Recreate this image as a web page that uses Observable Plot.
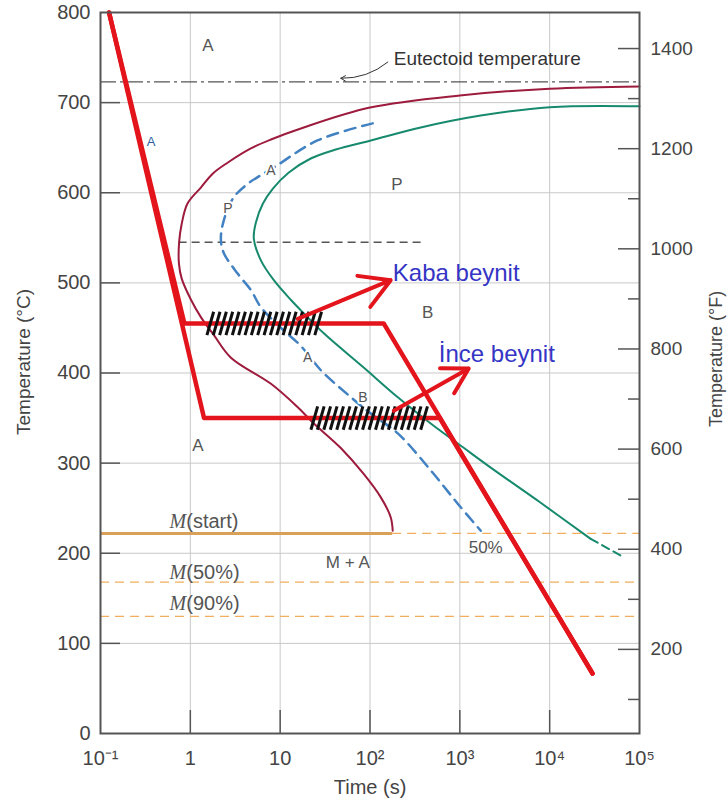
<!DOCTYPE html>
<html><head><meta charset="utf-8">
<script src="https://cdn.jsdelivr.net/npm/d3@7"></script>
<script src="https://cdn.jsdelivr.net/npm/@observablehq/plot@0.6"></script>
<style>
body{margin:0;background:#fff;}
#chart svg{font-family:"Liberation Sans",Arial,sans-serif;}
</style></head><body><div id="chart"></div>
<script>
// ---- axis ticks ----
const xTicks = [0.1, 1, 10, 100, 1000, 10000, 100000];
const xTickLabels = ["10⁻¹", "1", "10", "10²", "10³", "10⁴", "10⁵"];
const yTicksC = [0, 100, 200, 300, 400, 500, 600, 700, 800];
const yTicksF = [200, 400, 600, 800, 1000, 1200, 1400];
const yMinorF = [100, 300, 500, 700, 900, 1100, 1300];

// ---- reference temperatures (°C) ----
const eutectoidT = 723;
const noseLineT = 545, noseLineT0 = 0.75, noseLineT1 = 386;
const mStartT = 222, mStartEnd = 179;
const m50T = 168;
const m90T = 130;

// ---- transformation curves [time s, temperature °C] ----
const startCurve = [[100000,718],[10000,715.5],[1000,708],[100,694.5],[17,671.3],[7.9,659.1],[4.72,649.2],[2.62,633.6],[1.784,621.4],[1.31,605.8],[0.93,588],[0.8,565],[0.75,545],[0.746,522],[0.8,505],[1.02,481],[1.31,462],[1.83,442],[2.83,417],[7.9,388],[15.7,362],[23.7,344],[47,317],[85,288],[132,262],[170,240],[179,225]];
const halfCurve = [[107,677],[26,658],[8.5,628],[4.37,610],[2.98,593.6],[2.31,566],[2.19,547],[2.37,532.6],[3.38,510],[4.72,492],[6.1,473],[10.2,450],[17,430],[28.4,403],[53.8,378],[102,355],[204,333],[474,292],[948,255],[1710,225]];
const endCurve = [[100000,696],[10000,695],[1706,685.6],[367,672.4],[102,658],[41.6,648],[21.9,638],[12.5,622.5],[8.3,604.7],[6.43,588],[5.37,567],[5.09,549],[6.1,525],[8.5,503],[13.2,481],[18.4,466],[30.6,444],[85,406],[204,373],[474,344],[1104,317],[2208,295],[7943,256],[28600,216]];
const endCurveDashed = [[28600,216],[61700,197.5]];

// ---- cooling paths ----
const coarsePath = [[0.1245,800],[0.859,455],[142,455],[30000,66.6]];
const finePath = [[0.1245,800],[1.42,350],[597,350],[30000,66.6]];
const hatchBands = [{t0:1.53, t1:24.3, T:455}, {t0:22, t1:367, T:350}];
const arrows = [{t1:15.7, T1:460, t2:170, T2:503}, {t1:184, T1:358, t2:1256, T2:405}];

// ---- labels ----
const regionLabels = [{s:"A", t:1.57, T:763},{s:"P", t:200, T:609},{s:"B", t:439, T:467},{s:"A", t:1.215, T:320},{s:"M + A", t:56.6, T:190},{s:"50%", t:1940, T:206}];
const curveLabels = [{s:"A", t:7.9, T:625},{s:"P", t:2.62, T:583},{s:"A", t:20.3, T:417},{s:"B", t:83.2, T:373}];
const mLabels = [{s:"(start)", T:235},{s:"(50%)", T:179},{s:"(90%)", T:144}];
const mLabelT = 0.9;
const bainite = [{s:"Kaba beynit", t:179.6, T:511},{s:"İnce beynit", t:583, T:420.5}];

// derived hatch strokes (decorative, evenly spaced along each band)
const hatch = [];
for (const b of hatchBands) {
  const n = 18, l0 = Math.log10(b.t0), l1 = Math.log10(b.t1);
  for (let i = 0; i < n; i++) {
    const l = l0 + (l1 - l0) * i / (n - 1);
    hatch.push({x1: 10 ** l, y1: b.T - 13, x2: 10 ** (l + 0.075), y2: b.T + 13});
  }
}
const toC = F => (F - 32) * 5 / 9;
const toF = C => String(Math.round(C * 9 / 5 + 32));
const X = d => d[0], Y = d => d[1];
const grey = "#444";

const chart = Plot.plot({
  width: 728, height: 805,
  marginLeft: 100, marginRight: 89, marginTop: 12, marginBottom: 72,
  style: {fontFamily: '"Liberation Sans", Arial, sans-serif', fontSize: "19px", background: "#fff"},
  x: {type: "log", domain: [0.1, 100000]},
  y: {domain: [0, 800]},
  marks: [
    Plot.gridX(xTicks.slice(1, -1), {stroke: "#c8c8c8", strokeOpacity: 1}),
    Plot.gridY(yTicksC.slice(1, -1), {stroke: "#c8c8c8", strokeOpacity: 1}),
    // Martensite lines
    Plot.ruleY([mStartT], {x1: 0.1, x2: mStartEnd, stroke: "#d9a05a", strokeWidth: 3}),
    Plot.ruleY([mStartT], {x1: mStartEnd, x2: 100000, stroke: "#f0ae5e", strokeWidth: 1.3, strokeDasharray: "9,6"}),
    Plot.ruleY([m50T, m90T], {stroke: "#f0ae5e", strokeWidth: 1.3, strokeDasharray: "9,6"}),
    // eutectoid & nose line
    Plot.ruleY([eutectoidT], {stroke: "#555", strokeWidth: 1.4, strokeDasharray: "16,4,3,4"}),
    Plot.ruleY([noseLineT], {x1: noseLineT0, x2: noseLineT1, stroke: "#555", strokeWidth: 1.4, strokeDasharray: "8,5"}),
    // curves
    Plot.line(startCurve, {x: X, y: Y, stroke: "#9d1b3c", strokeWidth: 2, curve: "catmull-rom"}),
    Plot.line(endCurve, {x: X, y: Y, stroke: "#178a6e", strokeWidth: 2, curve: "catmull-rom"}),
    Plot.line(endCurveDashed, {x: X, y: Y, stroke: "#178a6e", strokeWidth: 2, strokeDasharray: "8,5"}),
    Plot.line(halfCurve, {x: X, y: Y, stroke: "#4282c2", strokeWidth: 2.5, strokeDasharray: "11,7", curve: "catmull-rom"}),
    Plot.text(curveLabels, {x: "t", y: "T", text: "s", fontSize: 14, fill: "#555", stroke: "white", strokeWidth: 4}),
    // cooling paths
    Plot.line(coarsePath, {x: X, y: Y, stroke: "#e3141b", strokeWidth: 4.5}),
    Plot.line(finePath, {x: X, y: Y, stroke: "#e3141b", strokeWidth: 4.5}),
    Plot.link(hatch, {x1: "x1", y1: "y1", x2: "x2", y2: "y2", stroke: "#111", strokeWidth: 3}),
    Plot.arrow(arrows, {x1: "t1", y1: "T1", x2: "t2", y2: "T2", stroke: "#e3141b", strokeWidth: 4, headLength: 22}),
    // eutectoid label
    Plot.text(["Eutectoid temperature"], {x: 184, y: 749, textAnchor: "start", fill: "#333"}),
    Plot.arrow([0], {x1: 158, y1: 745, x2: 47.3, y2: 727, bend: 20, stroke: "#333", strokeWidth: 1, headLength: 8}),
    // region labels
    Plot.text(regionLabels, {x: "t", y: "T", text: "s", fontSize: 17, fill: "#555"}),
    Plot.text(["A"], {x: 0.365, y: 656, fontSize: 13, fill: "#2c5f9e"}),
    Plot.text(mLabels, {x: mLabelT, y: "T", text: () => "M", textAnchor: "end", fontFamily: '"Liberation Serif", serif', fontStyle: "italic", fontSize: 20, fill: "#555"}),
    Plot.text(mLabels, {x: mLabelT, y: "T", text: "s", textAnchor: "start", fontSize: 20, fill: "#555"}),
    Plot.text(bainite, {x: "t", y: "T", text: "s", textAnchor: "start", fontSize: 24, fill: "#3535c5"}),
    // axes
    Plot.axisY(yTicksC, {tickSize: 0, tickPadding: 10, label: null, fontSize: 20, color: grey}),
    Plot.axisY(yTicksC.slice(1, -1), {tickSize: 20, dx: 20, fill: "none", label: null, stroke: "#555", strokeWidth: 1.5}),
    Plot.axisX(xTicks, {tickSize: 0, tickPadding: 17, label: null, fontSize: 20, color: grey, tickFormat: d => xTickLabels[xTicks.indexOf(d)]}),
    Plot.axisX(xTicks.slice(1, -1), {tickSize: 23, dy: -23, fill: "none", label: null, stroke: "#555", strokeWidth: 1.5}),
    Plot.axisY(yTicksF.map(toC), {anchor: "right", tickSize: 0, tickPadding: 11, label: null, fontSize: 19, color: grey, tickFormat: toF}),
    Plot.axisY(yTicksF.map(toC), {anchor: "right", tickSize: 22, dx: -22, fill: "none", label: null, stroke: "#555", strokeWidth: 1.5}),
    Plot.axisY(yMinorF.map(toC), {anchor: "right", tickSize: 12, dx: -12, fill: "none", label: null, stroke: "#555", strokeWidth: 1.5}),
    Plot.text(["Temperature (°C)"], {frameAnchor: "left", textAnchor: "middle", lineAnchor: "middle", dx: -77, dy: -11, rotate: -90, fontSize: 19, fill: grey}),
    Plot.text(["Temperature (°F)"], {frameAnchor: "right", textAnchor: "middle", lineAnchor: "middle", dx: 77, dy: -14, rotate: -90, fontSize: 18, fill: grey}),
    Plot.text(["Time (s)"], {frameAnchor: "bottom", textAnchor: "middle", lineAnchor: "middle", dy: 54, fontSize: 20, fill: grey}),
    Plot.frame({stroke: "#555", strokeWidth: 2})
  ]
});
document.getElementById("chart").append(chart);
</script></body></html>
